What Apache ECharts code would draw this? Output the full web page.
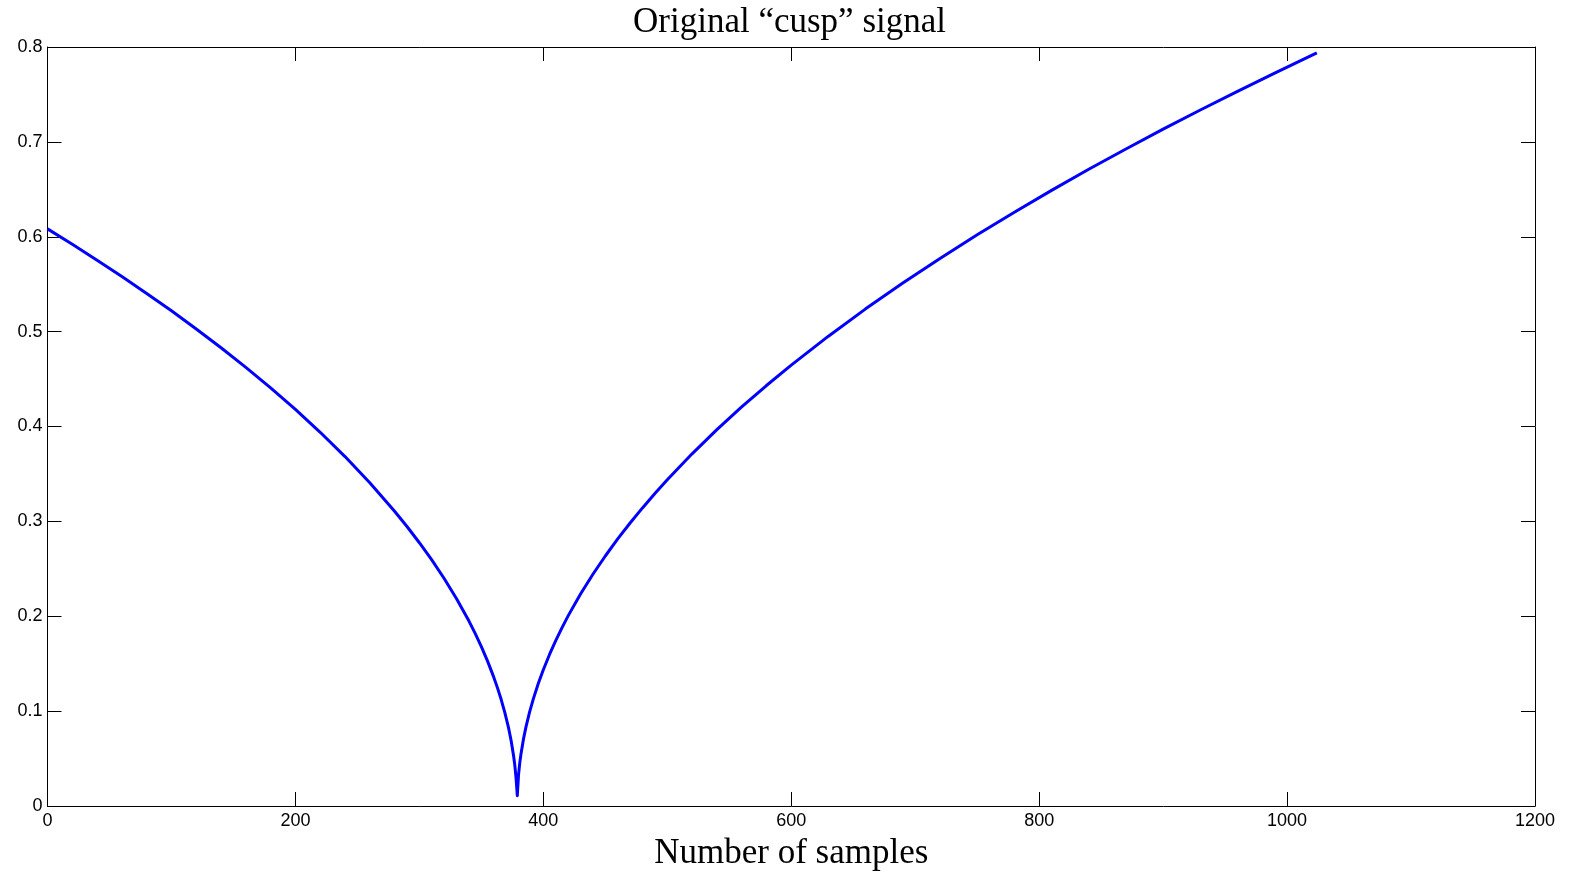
<!DOCTYPE html>
<html><head><meta charset="utf-8">
<script src="https://cdn.jsdelivr.net/npm/echarts@6/dist/echarts.min.js"></script>
<style>html,body{margin:0;padding:0;background:#fff}#c{width:1579px;height:879px}</style>
</head><body><div id="c"></div>
<script>
const sampleIdx = [0,20,40,60,80,100,120,140,160,180,200,220,240,260,280,290,300,310,320,330,340,345,350,355,360,363,366,369,372,374,376,377,378,379,380,381,382,384,386,389,392,396,400,405,410,415,420,430,440,450,460,470,480,490,500,520,540,560,580,600,630,660,690,720,750,780,810,840,870,900,930,960,990,1024];
const signal = [0.6083,0.5920,0.5753,0.5580,0.5403,0.5219,0.5028,0.4830,0.4623,0.4407,0.4180,0.3939,0.3683,0.3407,0.3107,0.2946,0.2775,0.2594,0.2398,0.2185,0.1949,0.1819,0.1679,0.1527,0.1358,0.1245,0.1122,0.0982,0.0820,0.0690,0.0530,0.0428,0.0293,0.0108,0.0331,0.0455,0.0552,0.0707,0.0834,0.0994,0.1132,0.1293,0.1436,0.1597,0.1743,0.1878,0.2004,0.2234,0.2443,0.2635,0.2815,0.2983,0.3142,0.3294,0.3439,0.3712,0.3967,0.4206,0.4432,0.4647,0.4952,0.5240,0.5512,0.5772,0.6020,0.6259,0.6489,0.6711,0.6925,0.7134,0.7336,0.7533,0.7725,0.7937];
const titleText = 'Original \u201ccusp\u201d signal';
const xName = 'Number of samples';

const chart = echarts.init(document.getElementById('c'));
const axisCommon = () => ({
  axisLine:{show:true,onZero:false,lineStyle:{color:'#000',width:1}},
  axisTick:{show:true,inside:true,length:14,lineStyle:{color:'#000',width:1}},
  splitLine:{show:false}
});
const labelStyle = {fontFamily:'Liberation Sans',fontSize:18,color:'#000'};
chart.setOption({
  animation:false,
  backgroundColor:'#fff',
  title:{text:titleText,left:'center',top:0,textStyle:{fontFamily:'Liberation Serif',fontWeight:'normal',fontSize:35,color:'#000'}},
  grid:{left:47.5,top:47,right:44,bottom:73},
  xAxis:[
    Object.assign({type:'value',min:0,max:1200,interval:200,position:'bottom',
      name:xName,nameLocation:'middle',nameGap:30,
      nameTextStyle:{fontFamily:'Liberation Serif',fontSize:35,color:'#000'},
      axisLabel:Object.assign({margin:6,formatter:v=>String(v)},labelStyle)},axisCommon()),
    Object.assign({type:'value',min:0,max:1200,interval:200,position:'top',axisLabel:{show:false}},axisCommon())
  ],
  yAxis:[
    Object.assign({type:'value',min:0,max:0.8,interval:0.1,position:'left',
      axisLabel:Object.assign({margin:5,formatter:v=>v===0?'0':v.toFixed(1)},labelStyle)},axisCommon()),
    Object.assign({type:'value',min:0,max:0.8,interval:0.1,position:'right',axisLabel:{show:false}},axisCommon())
  ],
  series:[{type:'line',data:sampleIdx.map((x,i)=>[x,signal[i]]),showSymbol:false,smooth:false,
    lineStyle:{color:'#0000ff',width:3,join:'round'},itemStyle:{color:'#0000ff'}}]
});
</script></body></html>
